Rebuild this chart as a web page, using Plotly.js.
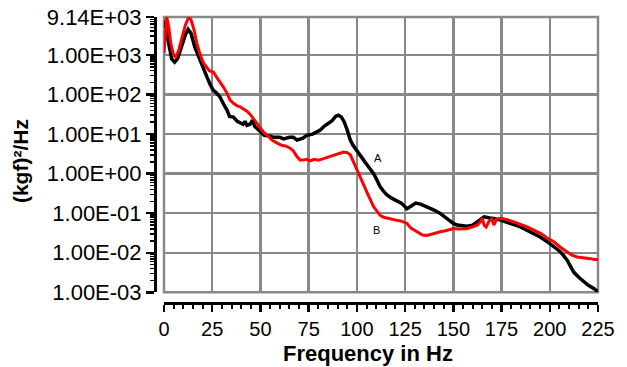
<!DOCTYPE html>
<html>
<head>
<meta charset="utf-8">
<script src="https://cdn.plot.ly/plotly-3.0.1.min.js"></script>
<style>
html,body{margin:0;padding:0;background:#fff;}
#chart{width:627px;height:367px;}
</style>
</head>
<body>
<div id="chart"></div>
<script>
// Curve A (black)
var freqA = [0,1,2,3,4,5.5,7,9,11,12.5,14,16,18.7,20,22.3,24,25.5,27,29,31,32.6,34,36,38,39.5,41,42,43,44.6,46,47,50,52,55,57,60,62,65,67,69,72,74,77,79,81,83,85,87,89,90.5,92,93.5,95,96.6,98,100,102,103.5,106,108.7,110.4,112,114,115.6,118,120.8,123,126,128,130.5,133,136.4,140,143,146.8,150,152,155,157,160,162.4,164,166,169,171,175,178,181,184.8,188,191.8,195,198.7,202,205.6,209,212.5,215,217.7,220,223,225];
var psdA = [5000,7100,2500,1260,794,660,794,1580,3160,4470,3550,1580,708,501,275,178,129,112,87,56,41,28,27,21,19,17.8,21,16.6,17.8,22.4,15.8,11.2,9.3,8.9,8.3,8.3,7.6,8.3,8.3,7.1,7.9,9.3,10,11.2,12.6,15.8,19,21.4,28.2,30.2,26.9,20,12.6,7.1,5.2,3.9,2.8,2.2,1.5,1.0,0.69,0.47,0.35,0.29,0.24,0.20,0.18,0.13,0.15,0.18,0.17,0.145,0.12,0.10,0.074,0.055,0.050,0.048,0.047,0.050,0.060,0.071,0.081,0.076,0.074,0.066,0.060,0.052,0.045,0.038,0.031,0.025,0.019,0.0145,0.0105,0.0065,0.0032,0.0024,0.0018,0.0015,0.00123,0.00102];

// Curve B (red)
var freqB = [0,0.7,1.4,2.5,3.5,5,6,7.5,9,11,12.8,14,15.5,17,18.5,20.4,22,23.5,25.6,27,28.5,30.8,32.5,34.3,36,38,39.5,41.2,43,44.6,47,49,51.6,54,56,58.5,61,63,65.4,67,68.9,70.5,72,74,75.8,78,80,82.7,85,87.9,90,93.1,95,96.6,98,100,101.5,103.5,106,108.7,110.4,112,113.9,116,118,120.8,123,126,128,131.2,134,136.4,139,141,143.3,146,150.2,153,157.2,160,162.4,163.5,165,166,167,168.5,170,171,172.5,174.5,178,181.4,185,188.3,191.5,195.2,198.5,202.1,205.5,209,211.5,214.2,217,219,221.2,223,225];
var psdB = [1120,4000,9100,5000,2000,1000,890,1260,2510,5600,9000,7900,4470,2000,1120,630,500,400,370,280,224,155,112,72,60,52,49,43,38,32,22.4,16.6,11.2,8.9,7.1,6.0,5.2,5.0,4.4,3.8,2.7,2.2,2.2,2.3,2.1,2.3,2.2,2.4,2.6,2.95,3.2,3.5,3.4,3.0,2.1,1.3,0.89,0.56,0.28,0.145,0.11,0.089,0.079,0.074,0.071,0.066,0.063,0.055,0.042,0.034,0.028,0.0275,0.030,0.032,0.034,0.036,0.041,0.040,0.041,0.045,0.050,0.056,0.074,0.050,0.045,0.063,0.071,0.050,0.071,0.074,0.069,0.060,0.052,0.045,0.038,0.031,0.024,0.019,0.0138,0.0105,0.0087,0.0078,0.0076,0.0074,0.0071,0.0068,0.0068];

var yTickVals = [0.001,0.01,0.1,1,10,100,1000,9140];
var yTickText = ["1.00E-03","1.00E-02","1.00E-01","1.00E+00","1.00E+01","1.00E+02","1.00E+03","9.14E+03"];
var xTickVals = [0,25,50,75,100,125,150,175,200,225];
var xTickText = ["0","25","50","75","100","125","150","175","200","225"];

var minorY = [];
for (var k = -3; k <= 3; k++) {
  for (var m = 2; m <= 9; m++) {
    var v = m * Math.pow(10, k);
    if (v < 9140) minorY.push(v);
  }
}

var gridCol = '#888888';
var fnt = 'Liberation Sans, Arial, sans-serif';

var traces = [
  {x: freqA, y: psdA, type: 'scatter', mode: 'lines', name: 'A',
   line: {color: '#000000', width: 3.5}, cliponaxis: true},
  {x: freqB, y: psdB, type: 'scatter', mode: 'lines', name: 'B',
   line: {color: '#ff0000', width: 3}, cliponaxis: true}
];

var layout = {
  width: 627, height: 367,
  margin: {l: 155, r: 29, t: 17, b: 64},
  paper_bgcolor: '#ffffff', plot_bgcolor: '#ffffff',
  showlegend: false,
  font: {family: fnt, color: '#000'},
  xaxis: {
    type: 'linear', range: [0, 225], domain: [0.0203, 1],
    anchor: 'free', position: 0,
    tickmode: 'array', tickvals: xTickVals, ticktext: xTickText,
    ticks: 'outside', ticklen: 7, tickwidth: 2.5, tickcolor: '#000',
    showline: true, linecolor: '#000', linewidth: 3,
    showgrid: true, gridcolor: gridCol, gridwidth: 2.5,
    zeroline: false,
    tickfont: {size: 20, family: fnt, color: '#000'},
    minor: {dtick: 5, tick0: 0, ticks: 'outside', ticklen: 4, tickwidth: 2, tickcolor: '#000', showgrid: false}
  },
  yaxis: {
    type: 'log', range: [-3, Math.log10(9140)], domain: [0.0374, 1],
    anchor: 'free', position: 0,
    tickmode: 'array', tickvals: yTickVals, ticktext: yTickText,
    ticks: 'outside', ticklen: 8, tickwidth: 2.5, tickcolor: '#000',
    showline: true, linecolor: '#000', linewidth: 3,
    showgrid: true, gridcolor: gridCol, gridwidth: 2.5,
    zeroline: false,
    tickfont: {size: 22, family: fnt, color: '#000'},
    minor: {tickmode: 'array', tickvals: minorY, ticks: 'outside', ticklen: 4, tickwidth: 1.5, tickcolor: '#000', showgrid: false}
  },
  shapes: [
    {type: 'rect', xref: 'x domain', yref: 'y domain', x0: 0, x1: 1, y0: 0, y1: 1,
     line: {color: gridCol, width: 2.5}, fillcolor: 'rgba(0,0,0,0)', layer: 'below'}
  ],
  annotations: [
    {text: 'Frequency in Hz', xref: 'paper', yref: 'paper', x: 0.481, y: -0.178,
     xanchor: 'center', yanchor: 'middle', showarrow: false,
     font: {size: 22, family: fnt, color: '#000', weight: 'bold'}},
    {text: '(kgf)²/Hz', xref: 'paper', yref: 'paper', x: -0.302, y: 0.497,
     xanchor: 'center', yanchor: 'middle', showarrow: false, textangle: -90,
     font: {size: 21, family: fnt, color: '#000', weight: 'bold'}},
    {text: 'A', xref: 'x', yref: 'y', x: 111, y: 0.39, showarrow: false,
     font: {size: 11, family: fnt, color: '#000'}},
    {text: 'B', xref: 'x', yref: 'y', x: 110.4, y: -1.43, showarrow: false,
     font: {size: 11, family: fnt, color: '#000'}}
  ]
};

Plotly.newPlot('chart', traces, layout, {displayModeBar: false, staticPlot: true});
</script>
</body>
</html>
